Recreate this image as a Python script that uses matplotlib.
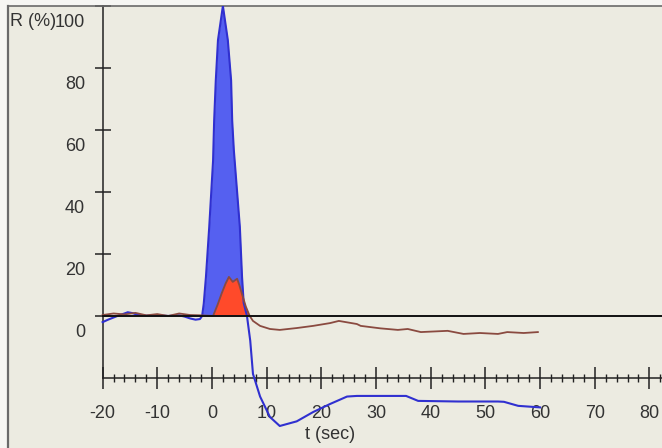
import matplotlib
matplotlib.use('Agg')
import matplotlib.pyplot as plt
import numpy as np
from matplotlib.transforms import ScaledTranslation

plt.rcParams['font.family'] = ['Liberation Sans', 'DejaVu Sans']

# Blue series (t in sec, R in %)
blue_t = [-20, -19, -18, -17, -16, -15.4, -14.5, -13.5, -12, -10, -8, -6, -5, -4, -3, -2.2,
          -1.8, -1.5, -1.1, -0.5, 0.2, 0.4, 0.7, 1.1, 2.0, 2.9, 3.5, 3.7, 4.0, 5.1, 5.5, 5.8,
          6.4, 7.0, 7.5, 8.8, 10.6, 12.4, 15.5, 18.5, 21.6, 24.7, 26.5, 35.5, 37.7, 45, 52.3,
          53.4, 56, 60]
blue_v = [-2, -1.2, -0.5, 0.2, 0.8, 1.2, 0.9, 0.3, 0.1, 0.2, 0, 0.2, -0.2, -0.8, -1.2, -1.0,
          0, 4, 12.6, 28.7, 50, 63, 76, 89, 100, 89, 76, 63, 53.5, 28.7, 12.6, 4.2,
          0, -8, -18.7, -26, -32.6, -35.5, -34, -31, -28.4, -26, -25.8, -25.8, -27.4, -27.6, -27.6,
          -27.7, -29, -29.5]

# Red series
red_t = [-20, -18, -16, -14, -12, -10, -8, -6, -4, -2, 0.2, 1.0, 1.8, 2.5, 3.1, 3.8, 4.6, 5.0,
         5.5, 6.2, 6.9, 7.5, 8.8, 10.6, 12.4, 15.5, 18.5, 21.6, 23.2, 26.5, 27.2, 30.8, 34, 35.8,
         38.2, 43.1, 46, 49, 52.3, 54, 57, 59.6]
red_v = [0.3, 0.8, 0.5, 1.0, 0.2, 0.6, 0, 0.8, 0.3, 0.2, 0, 3.5, 7.4, 10.5, 12.6, 11, 12, 10,
         7, 3, 0, -1.6, -3.2, -4.2, -4.5, -3.9, -3.2, -2.3, -1.6, -2.6, -3.2, -4.0, -4.5, -4.2,
         -5.2, -4.8, -5.8, -5.5, -5.8, -5.2, -5.5, -5.2]

x_ticks = list(range(-20, 81, 10))
y_ticks = list(range(0, 101, 20))

XMIN, XMAX = -37.3, 82.3
YMIN, YMAX = -42.6, 100
FS = 13

fig = plt.figure(figsize=(6.62, 4.48), dpi=100)
fig.patch.set_facecolor('#f6f6f3')
ax = fig.add_axes([8 / 662, 0, 654 / 662, 442 / 448])
ax.set_facecolor('#ecebe1')
ax.set_xlim(XMIN, XMAX)
ax.set_ylim(YMIN, YMAX)

bt = np.array(blue_t)
bv = np.array(blue_v)
rt = np.array(red_t)
rv = np.array(red_v)

bm = (bt >= -1.8) & (bt <= 6.4)
ax.fill_between(bt[bm], bv[bm], 0, color='#5560f0', lw=0, zorder=2)
rm = (rt >= 0.2) & (rt <= 6.9)
ax.fill_between(rt[rm], rv[rm], 0, color='#ff4a2a', lw=0, zorder=2.5)

ax.plot(bt, bv, color='#3030d0', lw=1.5, zorder=3)
ax.plot(rt, rv, color='#8a4a40', lw=1.3, zorder=3.5)

ax.plot([-20, XMAX], [0, 0], color='#111111', lw=1.4, zorder=4, clip_on=False)

ax.spines['right'].set_visible(False)
ax.spines['top'].set_color('#6a6a6a')
ax.spines['top'].set_linewidth(1.2)
ax.spines['left'].set_position(('data', -20))
ax.spines['left'].set_bounds(-20, 100)
ax.spines['bottom'].set_position(('data', -20))
ax.spines['bottom'].set_bounds(-20, XMAX)
for s in ['left', 'bottom']:
    ax.spines[s].set_color('#222222')
    ax.spines[s].set_linewidth(1.1)
ax.axvline(XMIN, color='#6a6a6a', lw=1.6, clip_on=False)

ax.set_xticks(x_ticks)
ax.set_xticklabels([str(v) for v in x_ticks])
ax.set_xticks(np.arange(-20, 83, 2), minor=True)
ax.set_yticks(y_ticks)
ax.set_yticklabels([str(v) for v in y_ticks])

ax.tick_params(axis='x', which='major', direction='inout', length=16, width=1.1,
               pad=11.5, colors='#222222', labelsize=FS, labelcolor='#333333')
ax.tick_params(axis='x', which='minor', direction='inout', length=6, width=1, colors='#222222')
ax.tick_params(axis='y', which='major', direction='inout', length=12, width=1.1,
               pad=6.5, colors='#222222', labelsize=FS, labelcolor='#333333')

ax.set_xlabel('t (sec)', fontsize=FS, color='#333333')
ax.xaxis.set_label_coords((330 - 8) / 654, (448 - 426) / 442)
ax.set_ylabel('R (%)', fontsize=FS, color='#333333', rotation=0, ha='left', va='center')
ax.yaxis.set_label_coords((10 - 8) / 654, (448 - 22) / 442)

off = ScaledTranslation(0, -0.15, fig.dpi_scale_trans)
for tk in ax.yaxis.get_major_ticks():
    tk.label1.set_transform(tk.label1.get_transform() + off)

fig.savefig('out.png', dpi=100, facecolor=fig.get_facecolor())
